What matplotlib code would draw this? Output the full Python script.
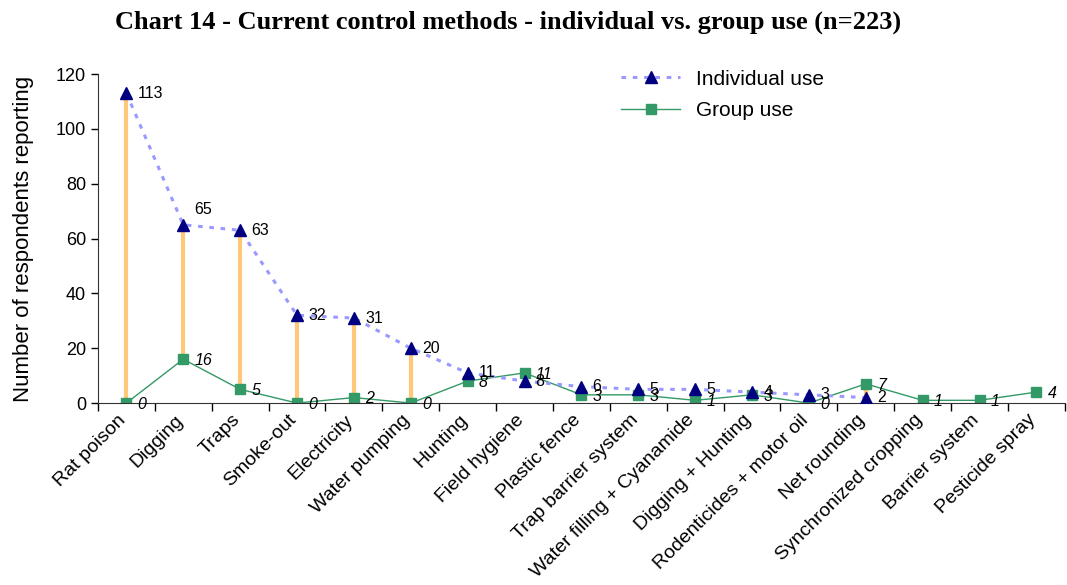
import matplotlib
matplotlib.use("Agg")
import matplotlib.pyplot as plt
import matplotlib.transforms as mtransforms
import numpy as np

categories = ["Rat poison", "Digging", "Traps", "Smoke-out", "Electricity", "Water pumping",
              "Hunting", "Field hygiene", "Plastic fence", "Trap barrier system",
              "Water filling + Cyanamide", "Digging + Hunting", "Rodenticides + motor oil",
              "Net rounding", "Synchronized cropping", "Barrier system", "Pesticide spray"]
individual = [113, 65, 63, 32, 31, 20, 11, 8, 6, 5, 5, 4, 3, 2]
group = [0, 16, 5, 0, 2, 0, 8, 11, 3, 3, 1, 3, 0, 7, 1, 1, 4]
yticks = [0, 20, 40, 60, 80, 100, 120]

plt.rcParams['font.family'] = ['Liberation Sans', 'DejaVu Sans']

fig = plt.figure(figsize=(10.67, 5.85), dpi=100)
ax = fig.add_axes([0.0918, 0.311, 0.9062, 0.5625])

n = len(categories)
x = np.arange(n)
xi = x[:len(individual)]

# high-low lines
lo = np.minimum(individual, group[:len(individual)])
hi = np.maximum(individual, group[:len(individual)])
ax.vlines(xi, lo, hi, color='#FFC878', lw=3, zorder=1)

ax.plot(xi, individual, color='#9999FF', ls=(0, (1.5, 2.2)), lw=2.2, marker='^',
        markersize=8, markerfacecolor='#000080', markeredgecolor='#000080',
        label='Individual use', zorder=3)
ax.plot(x, group, color='#339966', lw=1, marker='s', markersize=6.5,
        markerfacecolor='#339966', markeredgecolor='#339966', label='Group use', zorder=2)

for i, v in enumerate(individual):
    dy = 11 if i == 1 else 0
    ax.annotate(str(v), (xi[i], v), xytext=(8, dy), textcoords='offset points',
                ha='left', va='center', fontsize=11.5, zorder=5)
for i, v in enumerate(group):
    ax.annotate(str(v), (x[i], v), xytext=(8, -1), textcoords='offset points',
                ha='left', va='center', fontsize=11.5, style='italic', zorder=5)

ax.set_xlim(-0.5, n - 0.5)
ax.set_ylim(0, 120)
ax.set_yticks(yticks)
ax.tick_params(axis='y', labelsize=13, direction='out', length=5, width=1)
ax.set_xticks(x)
ax.set_xticklabels(categories, rotation=45, ha='right', va='top', rotation_mode='anchor',
                   fontsize=14)
ax.tick_params(axis='x', which='major', length=0, pad=6)
offset = mtransforms.ScaledTranslation(-9 / 100, 0, fig.dpi_scale_trans)
for lab in ax.get_xticklabels():
    lab.set_transform(lab.get_transform() + offset)
ax.set_xticks(np.arange(-0.5, n, 1), minor=True)
ax.tick_params(axis='x', which='minor', direction='out', length=6, width=1)
for s in ['top', 'right']:
    ax.spines[s].set_visible(False)
ax.spines['left'].set_color('#333333')
ax.spines['bottom'].set_color('#333333')

ax.set_ylabel('Number of respondents reporting', fontsize=16, labelpad=16)

ax.legend(loc='upper left', bbox_to_anchor=(0.522, 1.07), frameon=False, fontsize=15,
          handlelength=2.8, labelspacing=0.6)

fig.text(0.476, 0.962, 'Chart 14 - Current control methods - individual vs. group use (n=223)',
         ha='center', va='center', fontsize=19, fontweight='bold',
         family=['Liberation Serif', 'DejaVu Serif'])

fig.savefig('out.png', dpi=100)
